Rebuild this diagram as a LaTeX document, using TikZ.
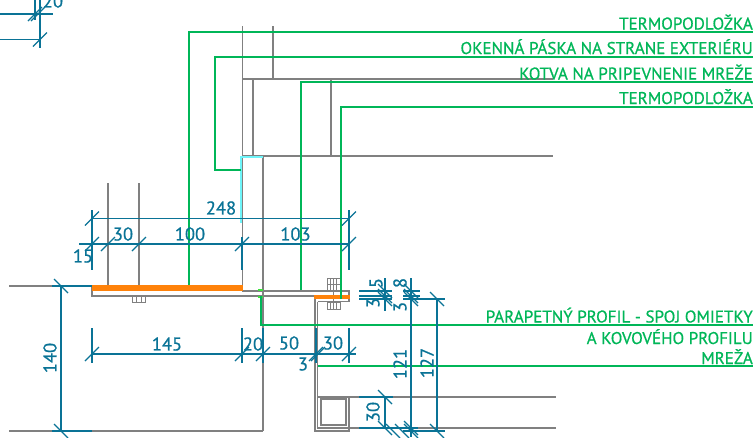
\documentclass[tikz,border=0pt]{standalone}
\usepackage{fontspec}
\setmainfont{PT Sans}
\newfontfamily\kreslenefont[FakeBold=0.7]{PT Sans}

\definecolor{sivacolor}{RGB}{128,128,128}
\definecolor{kotacolor}{RGB}{10,115,150}
\definecolor{popiscolor}{RGB}{0,182,88}
\definecolor{oranzcolor}{RGB}{255,130,10}
\definecolor{azurcolor}{RGB}{110,245,250}
\definecolor{svetlacolor}{RGB}{60,225,60}

\tikzset{
    obrys/.style={draw=sivacolor, line width=1.1pt},
    kota/.style={draw=kotacolor, line width=1.35pt},
    odkaz/.style={draw=popiscolor, line width=1.8pt},
    popis/.style={inner sep=0pt, anchor=base east, text=popiscolor, font=\kreslenefont\fontsize{17}{17}\selectfont},
    cislo/.style={inner sep=0pt, text=kotacolor, font=\kreslenefont\fontsize{18.5}{18.5}\selectfont}
}

\begin{document}
\begin{tikzpicture}[x=1pt, y=-1pt]
    \useasboundingbox (0,0) rectangle (755,437);

    % Stena nad parapetom
    \draw[obrys] (242.5,26) -- (242.5,285);
    \draw[obrys] (273,26) -- (273,79);
    \draw[obrys] (242,79) -- (553,79);
    \draw[obrys] (242,156) -- (553,156);
    \draw[obrys] (253,79) -- (253,156);
    \draw[obrys] (331,79) -- (331,156);
    \draw[obrys] (263,157) -- (263,431);

    % Doska a kotvy
    \draw[obrys] (92,286) -- (92,296) -- (316,296);
    \draw[obrys] (242,291) -- (349,291) -- (349,301.5) -- (317.5,301.5);
    \draw[obrys] (9,286) -- (92,286);
    \draw[obrys] (9,431) -- (263,431);
    \foreach \x in {108,139}
        \draw[obrys] (\x,183) -- (\x,286);
    \draw[obrys, line width=0.9pt] (132,296) rectangle (145,302);
    \draw[obrys, line width=0.9pt] (136,296) -- (136,302);
    \draw[obrys, line width=0.9pt] (141,296) -- (141,302);

    % Skrutka
    \draw[obrys, line width=0.9pt] (327,278) rectangle (340,290);
    \draw[obrys, line width=0.9pt] (327,302) rectangle (340,309);
    \draw[obrys, line width=0.9pt] (327,284) -- (340,284);
    \foreach \x in {330.5,333.5,336.5} {
        \draw[obrys, line width=0.9pt] (\x,278) -- (\x,290);
        \draw[obrys, line width=0.9pt] (\x,302) -- (\x,309);
    }
    \draw[obrys, line width=0.9pt] (333.5,290) -- (333.5,302);

    % Profil
    \draw[obrys] (315,299) -- (315,431) -- (349,431) -- (349,397) -- (317.5,397);
    \draw[obrys] (317.5,301.5) -- (317.5,428) -- (349,428);
    \draw[obrys] (349,397) -- (556,397);
    \draw[obrys] (349,428) -- (556,428);
    \draw[obrys, line width=1.3pt] (321,399) rectangle (346,425);

    % Vyplne
    \fill[oranzcolor] (92,285) rectangle (243,291);
    \fill[oranzcolor] (314,295) rectangle (350,299);
    \draw[azurcolor, line width=1.2pt] (241,223) -- (241,157) -- (263,157);
    \draw[svetlacolor, line width=1.5pt] (258,290) -- (263,290);
    \draw[svetlacolor, line width=1.5pt] (258,297) -- (263,297);

    % Odkazy
    \draw[odkaz] (189,285) -- (189,32) -- (753,32);
    \draw[odkaz] (241,170) -- (215,170) -- (215,57) -- (753,57);
    \draw[odkaz] (301,290) -- (301,82) -- (753,82);
    \draw[odkaz] (341,299) -- (341,107) -- (753,107);
    \draw[odkaz] (261,296) -- (261,325) -- (753,325);
    \draw[odkaz] (318,366) -- (753,366);

    % Texty odkazov
    \node[popis] (termo1) at (753,29.5) {TERMOPODLOŽKA};
    \node[popis] (paska) at (753,54) {OKENNÁ PÁSKA NA STRANE EXTERIÉRU};
    \node[popis] (kotva) at (753,79.5) {KOTVA NA PRIPEVNENIE MREŽE};
    \node[popis] (termo2) at (753,104) {TERMOPODLOŽKA};
    \node[popis] (parapet) at (753,322.5) {PARAPETNÝ PROFIL - SPOJ OMIETKY};
    \node[popis] (kovovy) at (753,344) {A KOVOVÉHO PROFILU};
    \node[popis] (mreza) at (753,364) {MREŽA};

    % Horne koty
    \draw[kota] (92,218.5) -- (349,218.5);
    \draw[kota] (79,244) -- (349,244);
    \draw[kota] (92,210) -- (92,270);
    \draw[kota] (349,210) -- (349,270);
    \draw[kota] (242,237) -- (242,270);

    % Dolne koty
    \draw[kota] (92,354) -- (356,354);
    \foreach \x in {92,242,263,316,349}
        \draw[kota] (\x,328) -- (\x,363);

    % Zvisle koty
    \draw[kota] (61,286) -- (61,431);
    \draw[kota] (52,286) -- (92,286);
    \draw[kota] (52,431) -- (92,431);
    \draw[kota] (385,278) -- (385,311);
    \draw[kota] (385,397) -- (385,428);
    \draw[kota] (411,278) -- (411,437);
    \draw[kota] (437,299) -- (437,431);
    \foreach \y in {291,296,299}
        \draw[kota] (359,\y) -- (392,\y);
    \draw[kota] (403,291) -- (420,291);
    \draw[kota] (403,296) -- (420,296);
    \draw[kota] (403,299) -- (445,299);
    \draw[kota] (359,397) -- (393,397);
    \draw[kota] (359,428) -- (418,428);
    \draw[kota] (403,431) -- (445,431);

    % Koty vlavo hore
    \draw[kota] (0,14) -- (53,14);
    \draw[kota] (0,39.5) -- (40,39.5);
    \draw[kota] (35,0) -- (35,20);
    \draw[kota] (40,0) -- (40,48);

    % Znacky na kotach
    \foreach \x/\y in {92/218.5,349/218.5,92/244,108/244,139/244,242/244,349/244,
                       92/354,242/354,263/354,316/354,318/354,349/354,
                       35/14,38/14,40/39.5}
        \draw[kota] (\x-7,\y+7) -- (\x+7,\y-7);
    \foreach \x/\y in {61/286,61/431,385/291,385/296,385/299,411/291,411/296,411/299,
                       437/299,437/431,385/397,385/428,393/431,402/431,411/428,411/431}
        \draw[kota] (\x-7,\y-7) -- (\x+7,\y+7);

    % Cisla kot
    \node[cislo] (k248) at (221,208) {248};
    \node[cislo] (k30a) at (123,234) {30};
    \node[cislo] (k100) at (190,234) {100};
    \node[cislo] (k103) at (295.5,234) {103};
    \node[cislo] (k15) at (83,256) {15};
    \node[cislo] (k145) at (167,344) {145};
    \node[cislo] (k20a) at (253,344) {20};
    \node[cislo] (k50) at (289,343) {50};
    \node[cislo] (k30b) at (333,343) {30};
    \node[cislo] (k3a) at (303,364) {3};
    \node[cislo, rotate=90] (k140) at (50,358) {140};
    \node[cislo, rotate=90] (k3b) at (373,303) {3};
    \node[cislo, rotate=90] (k5) at (376,283) {5};
    \node[cislo, rotate=90] (k3c) at (400,307) {3};
    \node[cislo, rotate=90] (k8) at (400,283) {8};
    \node[cislo, rotate=90] (k121) at (400,364) {121};
    \node[cislo, rotate=90] (k127) at (427,363) {127};
    \node[cislo, rotate=90] (k30c) at (373,412) {30};
    \node[cislo] (k20b) at (53,1) {20};
\end{tikzpicture}
\end{document}
